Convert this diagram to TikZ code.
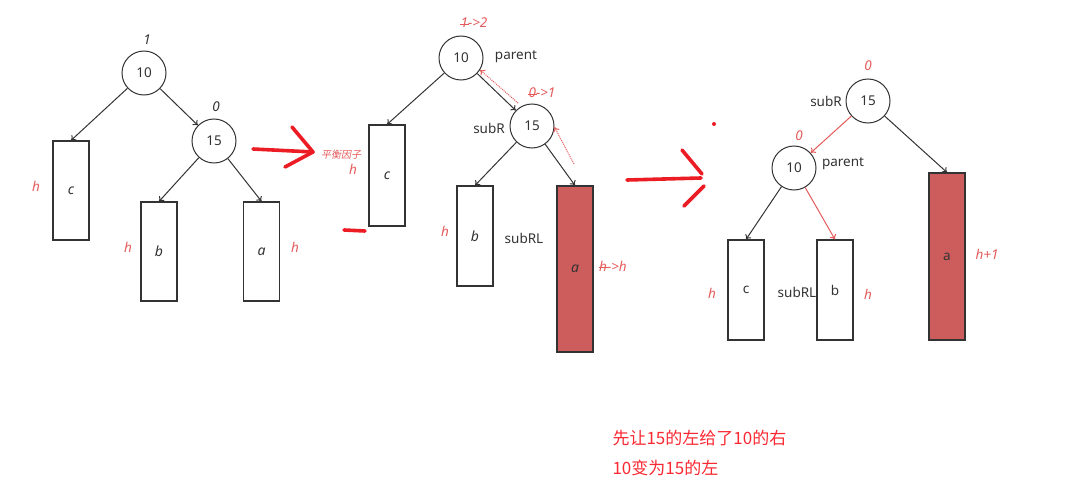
\documentclass[tikz,border=0pt]{standalone}
\usepackage{fontspec}
\setmainfont{Noto Sans}
\setsansfont{Noto Sans}
\newfontfamily\cjk{Noto Sans CJK SC}
\usetikzlibrary{arrows.meta}
\newcommand\strk[1]{\ooalign{#1\cr\hidewidth\rule[0.28em]{0.65em}{0.55pt}\hidewidth\cr}}
\definecolor{ink}{RGB}{51,51,51}
\definecolor{lbl}{RGB}{228,90,90}
\definecolor{pen}{RGB}{236,28,36}
\definecolor{fillred}{RGB}{205,92,92}
\definecolor{txtred}{RGB}{250,40,50}
\tikzset{
  circ/.style={circle,draw=ink,line width=1pt,minimum size=44pt,inner sep=0pt,font=\fontsize{13.5}{13.5}\selectfont,text=ink},
  box/.style={rectangle,draw=ink,line width=1.1pt,minimum width=36pt,inner sep=0pt,font=\fontsize{13.5}{13.5}\selectfont,text=ink},
  redbox/.style={box,fill=fillred},
  arr/.style={draw=ink,line width=1pt,-{To[length=4.5pt,width=7pt]}},
  rarr/.style={draw=lbl,line width=1pt,-{To[length=4.5pt,width=7pt]}},
  darr/.style={draw=lbl,line width=1pt,densely dotted,-{To[length=4.5pt,width=7pt]}},
  hl/.style={text=lbl,font=\fontsize{13.5}{13.5}\selectfont\itshape},
  tag/.style={text=ink,font=\fontsize{13.5}{13.5}\selectfont},
  penline/.style={draw=pen,line width=3.6pt,line cap=round,line join=round},
}
\begin{document}
\begin{tikzpicture}[x=1pt,y=-1pt]
\useasboundingbox (0,0) rectangle (1082,503);
% ---------- tree 1 ----------
\node[circ] (a10) at (144,73) {10};
\node[circ] (a15) at (214,141) {15};
\node[font=\fontsize{13.5}{13.5}\selectfont\itshape,text=ink] (a10bf) at (147,40) {1};
\node[font=\fontsize{13.5}{13.5}\selectfont\itshape,text=ink] (a15bf) at (216,107) {0};
\node[box,minimum height=99pt,font=\fontsize{14}{14}\selectfont\itshape] (ac) at (71,190.5) {c};
\node[box,minimum height=99pt,font=\fontsize{14}{14}\selectfont\itshape] (ab) at (159,251.5) {b};
\node[box,minimum height=99pt,font=\fontsize{14}{14}\selectfont\itshape,line width=1.3pt] (aa) at (261.5,251.5) {a};
\node[hl] (ach) at (36,186) {h};
\node[hl] (abh) at (128,247) {h};
\node[hl] (aah) at (295,247) {h};
\draw[arr] (a10) -- (ac.north);
\draw[arr] (a10) -- (a15);
\draw[arr] (a15) -- (ab.north);
\draw[arr] (a15) -- (aa.north);
% red pen arrow 1
\coordinate (p1s) at (253,149);
\coordinate (p1e) at (313,152);
\coordinate (p1u) at (292,127);
\coordinate (p1d) at (285,167);
\draw[penline] (p1s) -- (p1e);
\draw[penline] (p1u) -- (p1e) -- (p1d);
\node[text=lbl,font=\cjk\fontsize{10}{10}\selectfont,xslant=0.2] (bf) at (342,155) {平衡因子};
% ---------- tree 2 ----------
\node[circ] (b10) at (461,58) {10};
\node[circ] (b15) at (532,126) {15};
\node[hl] (b10bf) at (474,23) {\strk{1}->2};
\node[hl] (b15bf) at (542,93) {\strk{0}->1};
\node[tag] (bpar) at (516,57) {parent};
\node[tag] (bsubr) at (489,128) {subR};
\node[box,minimum height=101pt,font=\fontsize{14}{14}\selectfont\itshape] (bc) at (387,175.5) {c};
\node[box,minimum height=100pt,font=\fontsize{14}{14}\selectfont\itshape] (bb) at (475,236) {b};
\node[redbox,minimum height=166pt,font=\fontsize{14}{14}\selectfont\itshape] (ba) at (575,269) {a};
\node[hl] (bch) at (353,169) {h};
\node[hl] (bbh) at (445,231) {h};
\node[tag] (bsubrl) at (524,238) {subRL};
\node[hl] (bah) at (613,266) {\strk{h}->h};
\draw[arr] (b10) -- (bc.north);
\draw[arr] (b10) -- (b15);
\draw[arr] (b15) -- (bb.north);
\draw[arr] (b15) -- (ba.north);
\coordinate (d1s) at (518,103);
\coordinate (d2s) at (574,164);
\draw[darr] (d1s) -- (b10.-32);
\draw[darr] (d2s) -- (b15.-3);
\coordinate (mk1) at (344,230);
\coordinate (mk2) at (365,231);
\draw[penline] (mk1) -- (mk2);
% red pen arrow 2
\coordinate (p2s) at (627,180);
\coordinate (p2e) at (701,178);
\coordinate (p2u) at (682,150);
\coordinate (p2v) at (702,174);
\coordinate (p2w) at (704,186);
\coordinate (p2d) at (684,206);
\draw[penline] (p2s) -- (p2e);
\draw[penline] (p2u) -- (p2v);
\draw[penline] (p2w) -- (p2d);
\fill[pen] (714,124) circle (2pt);
% ---------- tree 3 ----------
\node[circ] (c15) at (868,101) {15};
\node[circ] (c10) at (794,168) {10};
\node[hl] (c15bf) at (868,66) {0};
\node[hl] (c10bf) at (799,136) {0};
\node[tag] (csubr) at (826,101) {subR};
\node[tag] (cpar) at (843,164) {parent};
\node[box,minimum height=100pt] (cc) at (746,290) {c};
\node[box,minimum height=100pt] (cb) at (835,290) {b};
\node[redbox,minimum height=167pt] (ca) at (947,256.5) {a};
\node[tag] (csubrl) at (797,292) {subRL};
\node[hl] (cch) at (712,293) {h};
\node[hl] (cbh) at (868,294) {h};
\node[hl] (cah) at (987,254) {h+1};
\draw[rarr] (c15) -- (c10);
\draw[arr] (c10) -- (cc.north);
\draw[rarr] (c10) -- (cb.north);
\draw[arr] (c15) -- (ca.north);
% ---------- bottom text ----------
\node[anchor=west,text=txtred,font=\cjk\fontsize{17}{17}\selectfont] (t1) at (609,438) {先让15的左给了10的右};
\node[anchor=west,text=txtred,font=\cjk\fontsize{17}{17}\selectfont] (t2) at (609,468) {10变为15的左};
\end{tikzpicture}
\end{document}
